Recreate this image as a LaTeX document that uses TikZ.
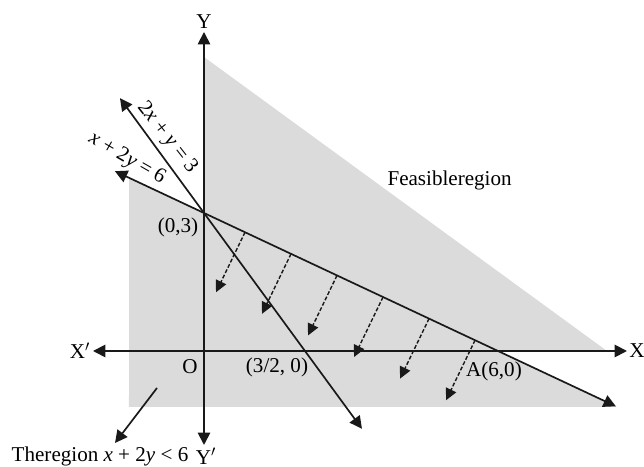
\documentclass[tikz,border=0pt]{standalone}
\usepackage{fontspec}
\setmainfont{Liberation Serif}
\usepackage{tikz}
\usetikzlibrary{arrows.meta,positioning,calc}
\tikzset{
  axis/.style={{Triangle[length=3.1mm,width=3.1mm]}-{Triangle[length=3.1mm,width=3.1mm]}, line width=1.3pt, black!90},
  bound/.style={{Triangle[length=3.1mm,width=3.1mm]}-{Triangle[length=3.1mm,width=3.1mm]}, line width=1.2pt, black!90},
  pointer/.style={-{Triangle[length=3.1mm,width=3.1mm]}, line width=1.2pt, black!90},
  dirarr/.style={-{Triangle[length=2.9mm,width=2.8mm]}, line width=1pt, dash pattern=on 2.8pt off 1.4pt, black!90},
  region/.style={fill=black!14},
}
\newcommand{\vx}{\textit{x}}
\newcommand{\vy}{\textit{y}}

\begin{document}
\begin{tikzpicture}[font=\fontsize{15}{18}\selectfont, x=1cm, y=1cm]
\useasboundingbox (-5.1,-2.9) rectangle (11.0,8.775);
\coordinate (O) at (0,0);
\coordinate (C) at (0,3.45);
\coordinate (H) at (2.525,0);
\coordinate (A) at (7.35,0);
\coordinate (Xl) at (-2.775,0);
\coordinate (Xr) at (10.575,0);
\coordinate (Yt) at (0,7.975);
\coordinate (Yb) at (0,-2.35);
\coordinate (L1a) at ($(C)!-0.303!(A)$);
\coordinate (L1b) at ($(C)!1.401!(A)$);
\coordinate (L2a) at ($(C)!-0.832!(H)$);
\coordinate (L2b) at ($(C)!1.564!(H)$);
% shaded part
\fill[region] (0,7.35) -- (10.075,0) -- (A) -- (10.33,-1.4) -- (-1.875,-1.4)
  -- ($(C)!-0.255!(A)$) -- (C) -- cycle;
\draw[axis] (Xl) -- (Xr);
\draw[axis] (Yb) -- (Yt);
\draw[bound] (L1a) -- (L1b);
\draw[bound] (L2a) -- (L2b);
\foreach \t in {0,...,5}
  \draw[dirarr] ($(C)!{0.1395+0.1565*\t}!(A)$) -- ++(-0.725,-1.5);
\node (Ylab) at (0,8.225) {Y};
\node (Yplab) at (0.05,-2.63) {Y$'$};
\node (Xlab) at (10.825,0) {X};
\node (Xplab) at (-3.1,0) {X$'$};
\node (Olab) at (-0.35,-0.4) {O};
\node (Clab) at (-0.65,3.1) {(0,3)};
\node (Hlab) at (1.825,-0.4) {(3/2, 0)};
\node (Alab) at (7.25,-0.5) {A(6,0)};
\node (feas) at (6.14,4.275) {Feasibleregion};
\node[rotate=-52] (eqa) at (-0.925,5.325) {2\vx{} + \vy{} = 3};
\node[rotate=-30] (eqb) at (-1.925,4.8) {\vx{} + 2\vy{} = 6};
\node (reg) at (-2.6,-2.625) {Theregion \vx{} + 2\vy{} < 6};
\coordinate (regS) at (-1.175,-0.925);
\coordinate (regE) at (-2.225,-2.3);
\draw[pointer] (regS) -- (regE);
\end{tikzpicture}
\end{document}
